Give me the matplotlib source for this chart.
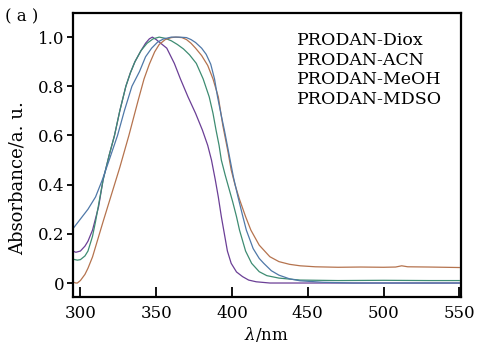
import numpy as np
import matplotlib.pyplot as plt

plt.rcParams['font.family'] = ['DejaVu Serif']
plt.rcParams['mathtext.fontset'] = 'dejavuserif'

labels = ['PRODAN-Diox', 'PRODAN-ACN', 'PRODAN-MeOH', 'PRODAN-MDSO']
colors = ['#6b3f96', '#3e8c72', '#b5734e', '#4f78a8']

# wavelength / absorbance pairs
diox_x = [295, 297, 300, 303, 305, 308, 312, 315, 319, 322.5, 326, 330, 333, 336, 340, 343, 345.5,
          347.5, 350, 353, 357, 362, 366, 371, 376, 380.5, 384, 386.5, 389, 391, 393, 395, 397,
          399.5, 403, 407, 411, 416, 425, 440, 460, 480, 500, 520, 550]
diox_y = [0.13, 0.125, 0.13, 0.15, 0.17, 0.215, 0.31, 0.42, 0.52, 0.6, 0.7, 0.8, 0.855, 0.9, 0.945, 0.975, 0.993,
          1.0, 0.99, 0.975, 0.955, 0.893, 0.83, 0.757, 0.69, 0.622, 0.56, 0.5, 0.42, 0.35, 0.27, 0.2, 0.13,
          0.08, 0.045, 0.026, 0.012, 0.005, 0.0, 0.0, 0.0, 0.0, 0.0, 0.0, 0.0]

acn_x = [295, 298, 300, 303, 305, 308, 310, 315, 319, 322.5, 326, 330, 333, 336, 340, 344, 348, 352,
         356, 360, 364, 368, 372, 376.5, 381, 385, 387.5, 389.5, 391.5, 393, 395.5, 398, 400.5, 403, 405, 409, 413,
         418, 423, 431, 445, 470, 500, 530, 550]
acn_y = [0.097, 0.093, 0.095, 0.11, 0.13, 0.19, 0.25, 0.42, 0.52, 0.6, 0.7, 0.8, 0.855, 0.9, 0.945, 0.975, 0.993, 1.0,
         0.995, 0.985, 0.97, 0.952, 0.928, 0.893, 0.83, 0.757, 0.69, 0.622, 0.56, 0.5, 0.44, 0.385, 0.33, 0.27, 0.215, 0.13, 0.08,
         0.046, 0.03, 0.02, 0.012, 0.01, 0.011, 0.01, 0.01]

meoh_x = [295, 297, 298, 300, 303, 305, 308, 315, 322, 326, 332, 338, 342, 345.5, 349, 352, 356, 360, 363,
          367, 370, 373, 376, 380, 384, 387.5, 391, 394, 397.5, 399.5, 402, 405, 409, 412.5, 418, 425,
          431, 438, 445, 455, 470, 485, 500, 508, 512, 516, 530, 550]
meoh_y = [0.004, 0.0, 0.0, 0.01, 0.035, 0.06, 0.106, 0.25, 0.39, 0.47, 0.6, 0.74, 0.83, 0.89, 0.94, 0.97, 0.99, 0.998, 1.0,
          0.998, 0.99, 0.975, 0.955, 0.925, 0.885, 0.83, 0.757, 0.64, 0.53, 0.46, 0.4, 0.34, 0.27, 0.215, 0.154, 0.107,
          0.087, 0.076, 0.07, 0.066, 0.064, 0.065, 0.064, 0.065, 0.07, 0.066, 0.065, 0.063]

mdso_x = [295, 300, 305, 310, 314.5, 319, 324.5, 329, 334, 339, 343, 347, 351, 355, 360, 365,
          370, 373, 376, 380, 383, 386, 388.5, 390.5, 393, 395, 398.5, 401, 404, 407, 409.5, 414, 418, 421, 426,
          431, 438, 445, 460, 480, 510, 550]
mdso_y = [0.22, 0.26, 0.3, 0.35, 0.42, 0.5, 0.6, 0.7, 0.8, 0.86, 0.92, 0.955, 0.98, 0.993, 1.0, 1.0,
          0.998, 0.99, 0.978, 0.955, 0.93, 0.89, 0.83, 0.757, 0.68, 0.622, 0.51, 0.43, 0.35, 0.275, 0.215, 0.14, 0.1, 0.08, 0.05,
          0.032, 0.017, 0.009, 0.003, 0.0, 0.0, 0.0]

xs = [diox_x, acn_x, meoh_x, mdso_x]
ys = [diox_y, acn_y, meoh_y, mdso_y]

fig = plt.figure(figsize=(4.79, 3.47), dpi=100)
ax = fig.add_axes([0.152, 0.144, 0.81, 0.8185])

for x, y, c, lab in zip(xs, ys, colors, labels):
    ax.plot(x, y, color=c, lw=0.9, label=lab)

ax.set_xlim(295, 551)
ax.set_ylim(-0.057, 1.098)
ax.set_xticks([300, 350, 400, 450, 500, 550])
ax.set_yticks([0, 0.2, 0.4, 0.6, 0.8, 1.0])
ax.set_yticklabels(['0', '0.2', '0.4', '0.6', '0.8', '1.0'])
ax.tick_params(axis='x', direction='in', length=7, width=1.3, labelsize=12, pad=6)
ax.tick_params(axis='y', direction='out', length=4, width=1.3, labelsize=12, pad=2)
for s in ax.spines.values():
    s.set_linewidth(1.6)

ax.set_xlabel(r'$\lambda$/nm', fontsize=12, labelpad=2)
ax.set_ylabel('Absorbance/a. u.', fontsize=13)
ax.yaxis.set_label_coords(-0.12, 0.42)

leg = ax.legend(loc='upper right', frameon=False, handlelength=0, handletextpad=0,
                fontsize=12.5, labelspacing=0.15, borderaxespad=0.7)
for h in leg.legend_handles:
    h.set_visible(False)

fig.text(0.01, 0.95, '( a )', fontsize=12, va='center')

fig.savefig('out.png', dpi=100)
